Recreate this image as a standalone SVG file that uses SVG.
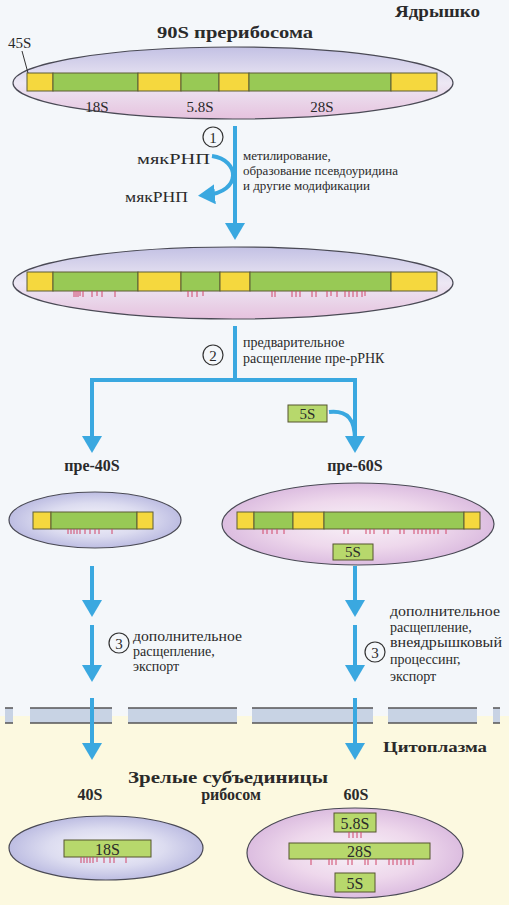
<svg xmlns="http://www.w3.org/2000/svg" width="509" height="905" viewBox="0 0 509 905">
<style>
.t{font-family:"Liberation Serif","DejaVu Serif",serif;fill:#2a2a2a}
.b{font-weight:bold}
.s13{font-size:13px}
.s14{font-size:14px}
.s15{font-size:15px}
.s16{font-size:16px}
.ell{stroke:#4a4a55;stroke-width:1.2}
.g{fill:#98c955;stroke:#5d5d35;stroke-width:1}
.y{fill:#f5d83e;stroke:#5d5d35;stroke-width:1}
.box{fill:#b7d86c;stroke:#55552f;stroke-width:1}
.arr{fill:none;stroke:#3aa8e0;stroke-width:4}
.num{fill:none;stroke:#333;stroke-width:1.2}
.tick{stroke:#d0476a;stroke-width:1;fill:none}
.mem{fill:#c8d3e4}
.mline{stroke:#555;stroke-width:1.5}
</style>
<defs>
<linearGradient id="gTop" x1="0" y1="0" x2="0" y2="1">
<stop offset="0" stop-color="#c3c1e4"/><stop offset="0.5" stop-color="#ede8f4"/><stop offset="1" stop-color="#e6c2de"/>
</linearGradient>
<radialGradient id="gBlue" cx="0.5" cy="0.5" r="0.5">
<stop offset="0" stop-color="#f6f5fb"/><stop offset="0.6" stop-color="#dcdcf0"/><stop offset="1" stop-color="#bdbde2"/>
</radialGradient>
<radialGradient id="gPink" cx="0.5" cy="0.5" r="0.5">
<stop offset="0" stop-color="#f8f2f8"/><stop offset="0.6" stop-color="#eed8ec"/><stop offset="1" stop-color="#dcbde0"/>
</radialGradient>
<marker id="ah" viewBox="0 0 17 20" refX="9" refY="10" markerWidth="17" markerHeight="20" markerUnits="userSpaceOnUse" orient="auto">
<path d="M0,0 L17,10 L0,20 z" fill="#3aa8e0"/>
</marker>
</defs>

<rect x="0" y="0" width="509" height="716" fill="#f4f7fa"/>
<rect x="0" y="716" width="509" height="189" fill="#fcf9e0"/>

<g id="membrane">
<rect class="mem" x="5" y="708" width="8" height="15"/>
<rect class="mem" x="30" y="708" width="82" height="15"/>
<rect class="mem" x="128" y="708" width="109" height="15"/>
<rect class="mem" x="252" y="708" width="121" height="15"/>
<rect class="mem" x="388" y="708" width="89" height="15"/>
<rect class="mem" x="493" y="708" width="7" height="15"/>
<path class="mline" d="M5 708H13M30 708H112M128 708H237M252 708H373M388 708H477M493 708H500M5 723H13M30 723H112M128 723H237M252 723H373M388 723H477M493 723H500"/>
</g>

<g id="labels-compartments">
<text class="t b s16" x="395" y="17" textLength="85" lengthAdjust="spacingAndGlyphs">Ядрышко</text>
<text class="t b s15" x="383" y="752" textLength="104" lengthAdjust="spacingAndGlyphs">Цитоплазма</text>
</g>

<g id="node-90S">
<text class="t b s16" x="157" y="38" textLength="156" lengthAdjust="spacingAndGlyphs">90S прерибосома</text>
<ellipse class="ell" cx="233" cy="83" rx="220" ry="36" fill="url(#gTop)"/>
<rect class="y" x="27" y="73" width="26" height="18"/>
<rect class="g" x="53" y="73" width="85" height="18"/>
<rect class="y" x="138" y="73" width="43" height="18"/>
<rect class="g" x="181" y="73" width="38" height="18"/>
<rect class="y" x="219" y="73" width="30" height="18"/>
<rect class="g" x="249" y="73" width="142" height="18"/>
<rect class="y" x="391" y="73" width="46" height="18"/>
<text class="t s15" x="8" y="48">45S</text>
<path d="M22 51 L28 73" stroke="#333" stroke-width="1"/>
<text class="t s15" x="97" y="112" text-anchor="middle">18S</text>
<text class="t s15" x="200" y="112" text-anchor="middle">5.8S</text>
<text class="t s15" x="322" y="112" text-anchor="middle">28S</text>
</g>

<g id="node-modified">
<ellipse class="ell" cx="233" cy="283" rx="220" ry="36" fill="url(#gTop)"/>
<rect class="y" x="27" y="272" width="26" height="19"/>
<rect class="g" x="53" y="272" width="85" height="19"/>
<rect class="y" x="138" y="272" width="43" height="19"/>
<rect class="g" x="181" y="272" width="39" height="19"/>
<rect class="y" x="220" y="272" width="30" height="19"/>
<rect class="g" x="250" y="272" width="141" height="19"/>
<rect class="y" x="391" y="272" width="46" height="19"/>
<path class="tick" d="M74 291v6M76 291v6M78 291v6M80 291v5M83 291v6M92 291v6M97 291v5M102 291v6M115 291v6M188 291v6M192 291v6M197 291v6M203 291v5M272 291v6M275 291v6M292 291v6M296 291v6M300 291v6M312 291v6M316 291v6M327 291v6M331 291v5M337 291v6M345 291v6M349 291v6M353 291v6M357 291v6M362 291v6M365 291v5"/>
</g>

<g id="node-pre40S">
<text class="t b s16" x="92" y="471" text-anchor="middle">пре-40S</text>
<ellipse class="ell" cx="95" cy="520" rx="86" ry="28" fill="url(#gBlue)"/>
<rect class="y" x="33" y="512" width="18" height="17"/>
<rect class="g" x="51" y="512" width="86" height="17"/>
<rect class="y" x="137" y="512" width="16" height="17"/>
<path class="tick" d="M68 529v5M71 529v5M74 529v5M77 529v5M80 529v5M85 529v5M90 529v5M95 529v5M99 529v5M112 529v5"/>
</g>

<g id="node-pre60S">
<text class="t b s16" x="355" y="471" text-anchor="middle">пре-60S</text>
<ellipse class="ell" cx="358" cy="524" rx="136" ry="41" fill="url(#gPink)"/>
<rect class="y" x="237" y="512" width="17" height="17"/>
<rect class="g" x="254" y="512" width="39" height="17"/>
<rect class="y" x="293" y="512" width="31" height="17"/>
<rect class="g" x="324" y="512" width="140" height="17"/>
<rect class="y" x="464" y="512" width="16" height="17"/>
<path class="tick" d="M263 529v5M267 529v5M272 529v5M277 529v5M284 529v5M344 529v5M348 529v5M366 529v5M370 529v5M374 529v5M384 529v5M388 529v5M400 529v5M404 529v5M414 529v5M418 529v5M422 529v5M426 529v5M430 529v5M434 529v5M438 529v5M446 529v5"/>
<rect class="box" x="333" y="544" width="40" height="16"/>
<text class="t s15" x="353" y="557" text-anchor="middle">5S</text>
</g>

<g id="node-5S-free">
<rect class="box" x="288" y="405" width="39" height="17"/>
<text class="t s15" x="307.5" y="419" text-anchor="middle">5S</text>
</g>

<g id="node-40S">
<text class="t b s16" x="228" y="783" text-anchor="middle" textLength="200" lengthAdjust="spacingAndGlyphs">Зрелые субъединицы</text>
<text class="t b s16" x="231" y="800" text-anchor="middle">рибосом</text>
<text class="t b s16" x="90" y="800" text-anchor="middle">40S</text>
<ellipse class="ell" cx="106" cy="848" rx="97" ry="32" fill="url(#gBlue)"/>
<rect class="box" x="64" y="840" width="87" height="17"/>
<text class="t s16" x="107.5" y="855" text-anchor="middle">18S</text>
<path class="tick" d="M81 857v6M84 857v6M87 857v6M90 857v6M93 857v6M97 857v5M104 857v6M110 857v6M114 857v6M126 857v6"/>
</g>

<g id="node-60S">
<text class="t b s16" x="356" y="800" text-anchor="middle">60S</text>
<ellipse class="ell" cx="355" cy="853" rx="108" ry="45" fill="url(#gPink)"/>
<rect class="box" x="334" y="813" width="42" height="19"/>
<text class="t s16" x="355" y="829" text-anchor="middle">5.8S</text>
<path class="tick" d="M349 832v6M353 832v6M357 832v6M361 832v6"/>
<rect class="box" x="289" y="843" width="141" height="16"/>
<text class="t s16" x="359.5" y="857" text-anchor="middle">28S</text>
<path class="tick" d="M311 859v6M329 859v6M332 859v6M336 859v6M348 859v6M352 859v6M365 859v6M368 859v6M376 859v6M389 859v6M393 859v6M397 859v6M401 859v6M405 859v6M409 859v6M413 859v6"/>
<rect class="box" x="335" y="873" width="40" height="19"/>
<text class="t s16" x="355" y="889" text-anchor="middle">5S</text>
</g>

<g id="connectors">
<line class="arr" x1="235" y1="126" x2="235" y2="232" marker-end="url(#ah)"/>
<path class="arr" d="M212 156 C240 160 242 192 206 195" marker-end="url(#ah)"/>
<path class="arr" d="M235 326 V380 H92 V445" stroke-linejoin="miter" marker-end="url(#ah)"/>
<path class="arr" d="M235 380 H355 V445" marker-end="url(#ah)"/>
<path class="arr" d="M329 412 C348 410 355 420 355 440"/>
<line class="arr" x1="92" y1="566" x2="92" y2="609" marker-end="url(#ah)"/>
<line class="arr" x1="92" y1="625" x2="92" y2="674" marker-end="url(#ah)"/>
<line class="arr" x1="92" y1="698" x2="92" y2="752" marker-end="url(#ah)"/>
<line class="arr" x1="355" y1="566" x2="355" y2="609" marker-end="url(#ah)"/>
<line class="arr" x1="355" y1="625" x2="355" y2="674" marker-end="url(#ah)"/>
<line class="arr" x1="355" y1="698" x2="355" y2="752" marker-end="url(#ah)"/>
</g>

<g id="step-1">
<circle class="num" cx="213" cy="137" r="10"/>
<text class="t s15" x="213" y="142.5" text-anchor="middle">1</text>
<text class="t s15" x="210" y="164" text-anchor="end" textLength="73" lengthAdjust="spacingAndGlyphs">мякРНП</text>
<text class="t s15" x="188" y="202" text-anchor="end" textLength="63" lengthAdjust="spacingAndGlyphs">мякРНП</text>
<text class="t s13" x="243" y="160">метилирование,</text>
<text class="t s13" x="243" y="175">образование псевдоуридина</text>
<text class="t s13" x="243" y="190">и другие модификации</text>
</g>

<g id="step-2">
<circle class="num" cx="213" cy="355" r="10"/>
<text class="t s15" x="213" y="360.5" text-anchor="middle">2</text>
<text class="t s14" x="243" y="347">предварительное</text>
<text class="t s14" x="243" y="363">расщепление пре-рРНК</text>
</g>

<g id="step-3-left">
<circle class="num" cx="119" cy="643" r="10"/>
<text class="t s15" x="119" y="648.5" text-anchor="middle">3</text>
<text class="t s14" x="133" y="641" textLength="109" lengthAdjust="spacingAndGlyphs">дополнительное</text>
<text class="t s14" x="133" y="656">расщепление,</text>
<text class="t s14" x="133" y="671">экспорт</text>
</g>

<g id="step-3-right">
<circle class="num" cx="375" cy="652" r="10"/>
<text class="t s15" x="375" y="657.5" text-anchor="middle">3</text>
<text class="t s14" x="390" y="616" textLength="110" lengthAdjust="spacingAndGlyphs">дополнительное</text>
<text class="t s14" x="390" y="632">расщепление,</text>
<text class="t s14" x="390" y="647" textLength="112" lengthAdjust="spacingAndGlyphs">внеядрышковый</text>
<text class="t s14" x="390" y="664">процессинг,</text>
<text class="t s14" x="390" y="681">экспорт</text>
</g>
</svg>
